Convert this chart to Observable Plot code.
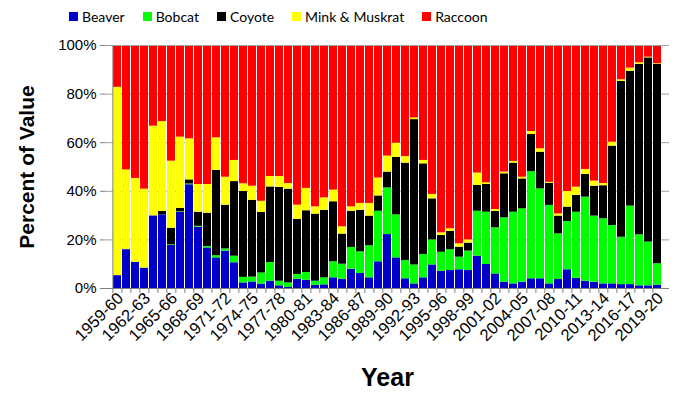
<!DOCTYPE html>
<html>
<head>
<meta charset="utf-8">
<script src="https://cdn.jsdelivr.net/npm/d3@7"></script>
<script src="https://cdn.jsdelivr.net/npm/@observablehq/plot@0.6"></script>
<style>
  html, body { margin: 0; padding: 0; background: #fff; }
  #wrap { width: 678px; height: 400px; overflow: hidden; }
  #legend { height: 35px; display: flex; align-items: center; padding-left: 69px; gap: 18px;
            font-family: Lato, "Open Sans", sans-serif; font-size: 14px; color: #000; box-sizing: border-box; padding-bottom: 2px; }
  .item { display: flex; align-items: center; gap: 4px; }
  .sw { width: 9px; height: 9px; display: inline-block; }
  svg text { font-family: "Liberation Sans", Arial, sans-serif; }
</style>
</head>
<body>
<div id="wrap">
  <div id="legend"></div>
  <div id="chart"></div>
</div>
<script>
const seasons = ["1959-60","1960-61","1961-62","1962-63","1963-64","1964-65","1965-66","1966-67","1967-68","1968-69",
  "1969-70","1970-71","1971-72","1972-73","1973-74","1974-75","1975-76","1976-77","1977-78","1978-79",
  "1979-80","1980-81","1981-82","1982-83","1983-84","1984-85","1985-86","1986-87","1987-88","1988-89",
  "1989-90","1990-91","1991-92","1992-93","1993-94","1994-95","1995-96","1996-97","1997-98","1998-99",
  "1999-00","2000-01","2001-02","2002-03","2003-04","2004-05","2005-06","2006-07","2007-08","2008-09",
  "2009-10","2010-11","2011-12","2012-13","2013-14","2014-15","2015-16","2016-17","2017-18","2018-19",
  "2019-20"];
const tickLabels = ["1959-60","1962-63","1965-66","1968-69","1971-72","1974-75","1977-78","1980-81","1983-84",
  "1986-87","1989-90","1992-93","1995-96","1998-99","2001-02","2004-05","2007-08","2010-11","2013-14",
  "2016-17","2019-20"];
const yTicks = [0, 20, 40, 60, 80, 100];

const species = ["Beaver", "Bobcat", "Coyote", "Mink & Muskrat", "Raccoon"];
const colors = ["#0000C8", "#00FF00", "#000000", "#FFFF00", "#FF0000"];

const beaver = [5.3,16.0,10.8,8.4,29.9,30.3,17.7,31.4,42.7,25.2,
  16.7,12.6,15.4,10.6,2.3,2.7,1.8,3.0,1.1,0.4,
  3.8,3.4,1.3,1.5,4.4,3.8,7.9,6.2,4.4,11.0,
  22.2,12.6,4.0,1.9,4.4,9.7,7.1,7.4,7.7,7.4,
  13.3,9.9,6.0,2.6,1.9,2.6,4.0,4.0,1.9,3.7,
  7.7,4.2,3.0,2.6,1.9,1.9,1.6,1.6,1.1,1.1,
  1.4];
const bobcat = [0,0,0,0,0,0,0.3,0.2,0.3,0.4,
  0.6,0.9,0.9,2.7,2.3,2.0,4.6,7.7,1.9,1.9,
  2.0,3.2,1.7,2.9,6.6,6.2,9.0,8.9,13.2,20.8,
  19.2,17.7,7.5,7.8,9.6,10.3,7.8,8.6,5.2,8.0,
  18.5,21.5,19.0,26.5,29.5,30.2,44.1,37.0,32.3,18.8,
  19.9,27.2,34.6,27.2,26.8,24.0,19.5,32.3,21.0,18.0,
  8.8];
const coyote = [0,0,0,0,0,1.4,6.8,1.4,1.7,5.8,
  13.7,35.1,18.0,30.7,35.3,31.6,24.9,31.1,38.6,38.6,
  22.7,25.4,27.6,27.8,24.7,12.4,14.9,17.1,12.2,6.3,
  6.5,23.7,40.1,59.8,37.3,16.9,6.9,7.5,4.1,3.3,
  10.6,11.4,6.7,18.1,20.2,12.3,15.3,15.1,9.1,7.3,
  5.9,6.9,9.3,12.3,13.6,32.7,64.1,55.5,70.1,75.8,
  82.0];
const mink = [77.5,32.8,34.5,32.5,36.9,37.0,27.6,29.3,16.9,11.4,
  11.8,13.4,11.5,8.7,3.2,5.8,4.6,4.3,4.5,2.3,
  5.8,9.2,3.0,5.1,4.8,3.0,1.8,2.8,5.2,7.4,
  6.6,5.8,2.7,0.7,1.4,1.8,1.1,1.1,1.4,1.3,
  5.1,0.7,0.8,0.7,0.7,0.7,1.2,1.4,0.4,0.9,
  6.4,3.4,2.1,2.1,0.9,1.6,0.7,1.3,0.7,0.3,
  0.3];
const raccoon = [17.2,51.2,54.7,59.1,33.2,31.3,47.6,37.7,38.4,57.2,
  57.2,38.0,54.2,47.3,56.9,57.9,64.1,53.9,53.9,56.8,
  65.7,58.8,66.4,62.7,59.5,74.6,66.4,65.0,65.0,54.5,
  45.5,40.2,45.7,29.8,47.3,61.3,77.1,75.4,81.6,80.0,
  52.5,56.5,67.5,52.1,47.7,54.2,35.4,42.5,56.3,69.3,
  60.1,58.3,51.0,55.8,56.8,39.8,14.1,9.3,7.1,4.8,
  7.5];

const series = [beaver, bobcat, coyote, mink, raccoon];
const rows = seasons.flatMap((s, i) => species.map((sp, j) => ({season: s, species: sp, value: series[j][i]})));

// legend
const legend = document.getElementById("legend");
species.forEach((sp, j) => {
  const it = document.createElement("div");
  it.className = "item";
  const sw = document.createElement("span");
  sw.className = "sw";
  sw.style.background = colors[j];
  const tx = document.createElement("span");
  tx.textContent = sp;
  it.appendChild(sw); it.appendChild(tx);
  legend.appendChild(it);
});

const W = 678, H = 365, mL = 105, mR = 9, mT = 10, mB = 112;
const step = (W - mL - mR) / seasons.length;

const chart = Plot.plot({
  width: W, height: H,
  marginLeft: mL, marginRight: mR, marginTop: mT, marginBottom: mB,
  style: {fontFamily: "'Liberation Sans', Arial, sans-serif", color: "#000", background: "#fff"},
  x: {type: "band", domain: seasons, paddingInner: 0.1, paddingOuter: 0.05, label: null},
  y: {domain: [0, 100], label: null},
  color: {domain: species, range: colors},
  marks: [
    Plot.gridY(yTicks, {stroke: "#a0a0a0", strokeOpacity: 1}),
    Plot.barY(rows, Plot.stackY({x: "season", y: "value", fill: "species", order: species})),
    Plot.ruleY([100], {stroke: "#a0a0a0"}),
    Plot.ruleY([0], {stroke: "#808080"}),
    Plot.ruleX([seasons[0]], {dx: -step / 2, stroke: "#808080"}),
    Plot.axisY({ticks: yTicks, tickFormat: d => d + "%", tickSize: 5, tickPadding: 4, fontSize: 15, stroke: "#808080", label: null}),
    Plot.axisX({ticks: seasons, tickSize: 5, tickFormat: () => "", dx: -step / 2, stroke: "#808080", label: null}),
    Plot.axisX({ticks: tickLabels, tickSize: 0, tickRotate: -45, tickPadding: 7, dx: 3, fontSize: 16.5, label: null}),
    Plot.text(["Percent of Value"], {frameAnchor: "left", textAnchor: "middle", rotate: -90, dx: -78, fontSize: 21, fontWeight: "bold"}),
    Plot.text(["Year"], {frameAnchor: "bottom", dy: 97, fontSize: 25, fontWeight: "bold"})
  ]
});
document.getElementById("chart").appendChild(chart);
</script>
</body>
</html>
